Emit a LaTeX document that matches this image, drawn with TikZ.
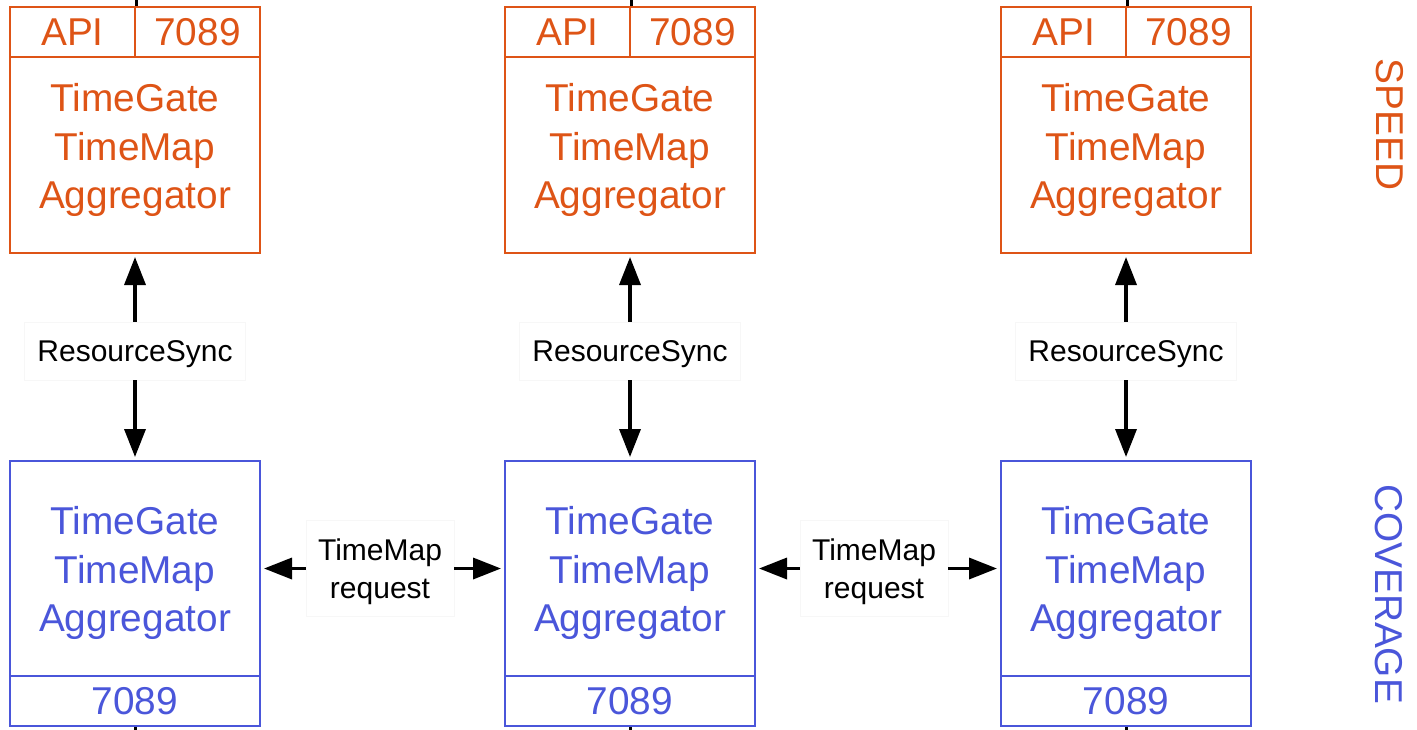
\documentclass[tikz,border=0pt]{standalone}
\usepackage{fontspec}
\setmainfont{Liberation Sans}
\usetikzlibrary{arrows.meta}

\definecolor{speedorange}{RGB}{222,84,22}
\definecolor{coverblue}{RGB}{74,86,218}

\begin{document}
\begin{tikzpicture}[x=0.5pt, y=-0.5pt, >={Triangle[length=14pt,width=10.5pt]},
	box/.style={draw, line width=1pt, inner sep=0pt, minimum width=125pt},
	big/.style={font=\fontsize{19.4}{24.3}\selectfont, align=center},
	small/.style={font=\fontsize{15}{19}\selectfont, align=center, draw=black!3, fill=white, inner sep=0pt, text depth=0pt},
	link/.style={->, line width=1.75pt, shorten >=1.5pt}]
	
	\useasboundingbox (0,0) rectangle (1417,729);
	
	\foreach \i/\x in {1/135, 2/630, 3/1126} {
		% speed box
		\node[box, big, speedorange, minimum width=62.5pt, minimum height=25pt] (api\i) at (\x-62.5,32) {API};
		\node[box, big, speedorange, minimum width=62.5pt, minimum height=25pt] (port\i) at (\x+62.5,32) {7089};
		\node[box, speedorange, minimum height=98pt] (speed\i) at (\x,155) {};
		\node[big, speedorange] (speedtxt\i) at (\x,150) {TimeGate\\TimeMap\\Aggregator};
		
		% coverage box
		\node[box, coverblue, minimum height=107.5pt] (cover\i) at (\x,568.5) {};
		\node[box, big, coverblue, minimum height=25pt] (cport\i) at (\x,701) {7089};
		\node[big, coverblue] (covertxt\i) at (\x,573) {TimeGate\\TimeMap\\Aggregator};
		
		% sync between them
		\node[small, minimum width=110.5pt, minimum height=29pt] (sync\i) at (\x,351) {ResourceSync};
		\draw[link] (sync\i) -- (speed\i);
		\draw[link] (sync\i) -- (cover\i);
		
		% cut off ends
		\draw[line width=1.5pt] (api\i.north east) -- ++(0,-12);
		\draw[line width=1.5pt] (cport\i.south) -- ++(0,12);
	}
	
	% requests between coverage boxes
	\node[small, minimum width=74pt, minimum height=48pt] (req1) at (380,568.5) {TimeMap\\request};
	\node[small, minimum width=74pt, minimum height=48pt] (req2) at (874,568.5) {TimeMap\\request};
	\draw[link] (req1) -- (cover1);
	\draw[link] (req1) -- (cover2);
	\draw[link] (req2) -- (cover2);
	\draw[link] (req2) -- (cover3);
	
	% side labels
	\node[big, speedorange, rotate=-90] (speedlbl) at (1390,124.5) {SPEED};
	\node[big, coverblue, rotate=-90] (coverlbl) at (1389,594) {COVERAGE};
\end{tikzpicture}
\end{document}
